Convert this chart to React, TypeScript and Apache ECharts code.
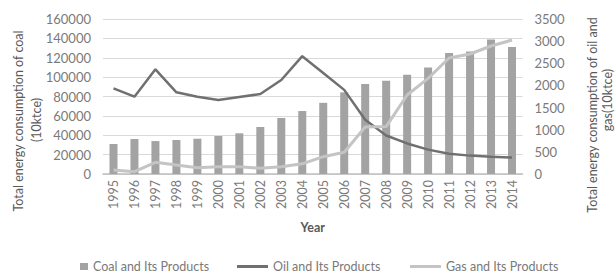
import React, { useEffect, useRef } from "react";
import * as echarts from "echarts";

const years = ["1995","1996","1997","1998","1999","2000","2001","2002","2003","2004","2005","2006","2007","2008","2009","2010","2011","2012","2013","2014"];
const coal = [31000,36100,34000,35100,36400,39200,42000,48500,57800,65000,73500,84300,93000,96200,102400,110000,125000,126400,138800,131100];
const oil = [1935,1746,2364,1845,1746,1671,1739,1806,2123,2660,2280,1900,1225,870,690,550,455,415,390,370];
const gas = [90,53,264,203,143,166,166,128,166,230,391,490,1060,1070,1784,2160,2620,2710,2890,3026];
const leftTicks = { max: 160000, interval: 20000 };
const rightTicks = { max: 3500, interval: 500 };

const FONT = "Lato";
const GRAY = "#7a7a7a";

export default function App() {
  const ref = useRef<HTMLDivElement>(null);
  useEffect(() => {
    const chart = echarts.init(ref.current!, null, { renderer: "svg" });
    const legendBase = { top: 260, padding: 0, itemGap: 3, textStyle: { color: GRAY, fontSize: 12.5, fontFamily: FONT } };
    chart.setOption({
      animation: false,
      textStyle: { fontFamily: FONT },
      grid: { left: 103, right: 92.5, top: 19, bottom: 101 },
      xAxis: {
        type: "category",
        data: years,
        boundaryGap: true,
        axisLine: { lineStyle: { color: "#bfbfbf", width: 1.5 } },
        axisTick: { show: false },
        axisLabel: { rotate: 90, color: GRAY, fontSize: 12.5, fontFamily: FONT, margin: 6 },
        name: "Year",
        nameLocation: "middle",
        nameGap: 47,
        nameTextStyle: { color: "#595959", fontWeight: "bold", fontSize: 12.5, fontFamily: FONT },
      },
      yAxis: [
        {
          type: "value",
          min: 0,
          max: leftTicks.max,
          interval: leftTicks.interval,
          axisLine: { show: false },
          axisTick: { show: false },
          splitLine: { lineStyle: { color: "#d9d9d9" } },
          axisLabel: { color: GRAY, fontSize: 13, fontFamily: FONT, margin: 12, formatter: (v: number) => String(v) },
        },
        {
          type: "value",
          min: 0,
          max: rightTicks.max,
          interval: rightTicks.interval,
          axisLine: { show: false },
          axisTick: { show: false },
          splitLine: { show: false },
          axisLabel: { color: GRAY, fontSize: 13, fontFamily: FONT, margin: 12, formatter: (v: number) => String(v) },
        },
      ],
      legend: [
        { ...legendBase, data: [{ name: "Coal and Its Products", icon: "rect" }], left: 80, itemWidth: 8, itemHeight: 7, itemGap: 4 },
        { ...legendBase, data: [{ name: "Oil and Its Products", icon: "rect" }], left: 237, itemWidth: 31, itemHeight: 3 },
        { ...legendBase, data: [{ name: "Gas and Its Products", icon: "rect" }], left: 410, itemWidth: 31, itemHeight: 3 },
      ],
      graphic: [
        { type: "text", x: 18, y: 121, rotation: Math.PI / 2, style: { text: "Total energy consumption of coal", fill: "#595959", font: `12.5px '${FONT}'`, align: "center", verticalAlign: "middle" } },
        { type: "text", x: 36, y: 120, rotation: Math.PI / 2, style: { text: "(10ktce)", fill: "#595959", font: `12.5px '${FONT}'`, align: "center", verticalAlign: "middle" } },
        { type: "text", x: 592, y: 115, rotation: Math.PI / 2, style: { text: "Total energy consumption of oil and", fill: "#595959", font: `12.5px '${FONT}'`, align: "center", verticalAlign: "middle" } },
        { type: "text", x: 607, y: 100, rotation: Math.PI / 2, style: { text: "gas(10ktce)", fill: "#595959", font: `12.5px '${FONT}'`, align: "center", verticalAlign: "middle" } },
      ],
      series: [
        {
          name: "Coal and Its Products",
          type: "bar",
          data: coal,
          yAxisIndex: 0,
          barWidth: 8,
          itemStyle: { color: "#a3a3a3" },
        },
        {
          name: "Oil and Its Products",
          type: "line",
          data: oil,
          yAxisIndex: 1,
          symbol: "none",
          lineStyle: { color: "#707070", width: 2.5 },
          itemStyle: { color: "#707070" },
        },
        {
          name: "Gas and Its Products",
          type: "line",
          data: gas,
          yAxisIndex: 1,
          symbol: "none",
          lineStyle: { color: "#c4c4c4", width: 3 },
          itemStyle: { color: "#c4c4c4" },
        },
      ],
    });
    return () => chart.dispose();
  }, []);
  return <div ref={ref} style={{ width: 615, height: 275, position: "absolute", left: 0, top: 0 }} />;
}
